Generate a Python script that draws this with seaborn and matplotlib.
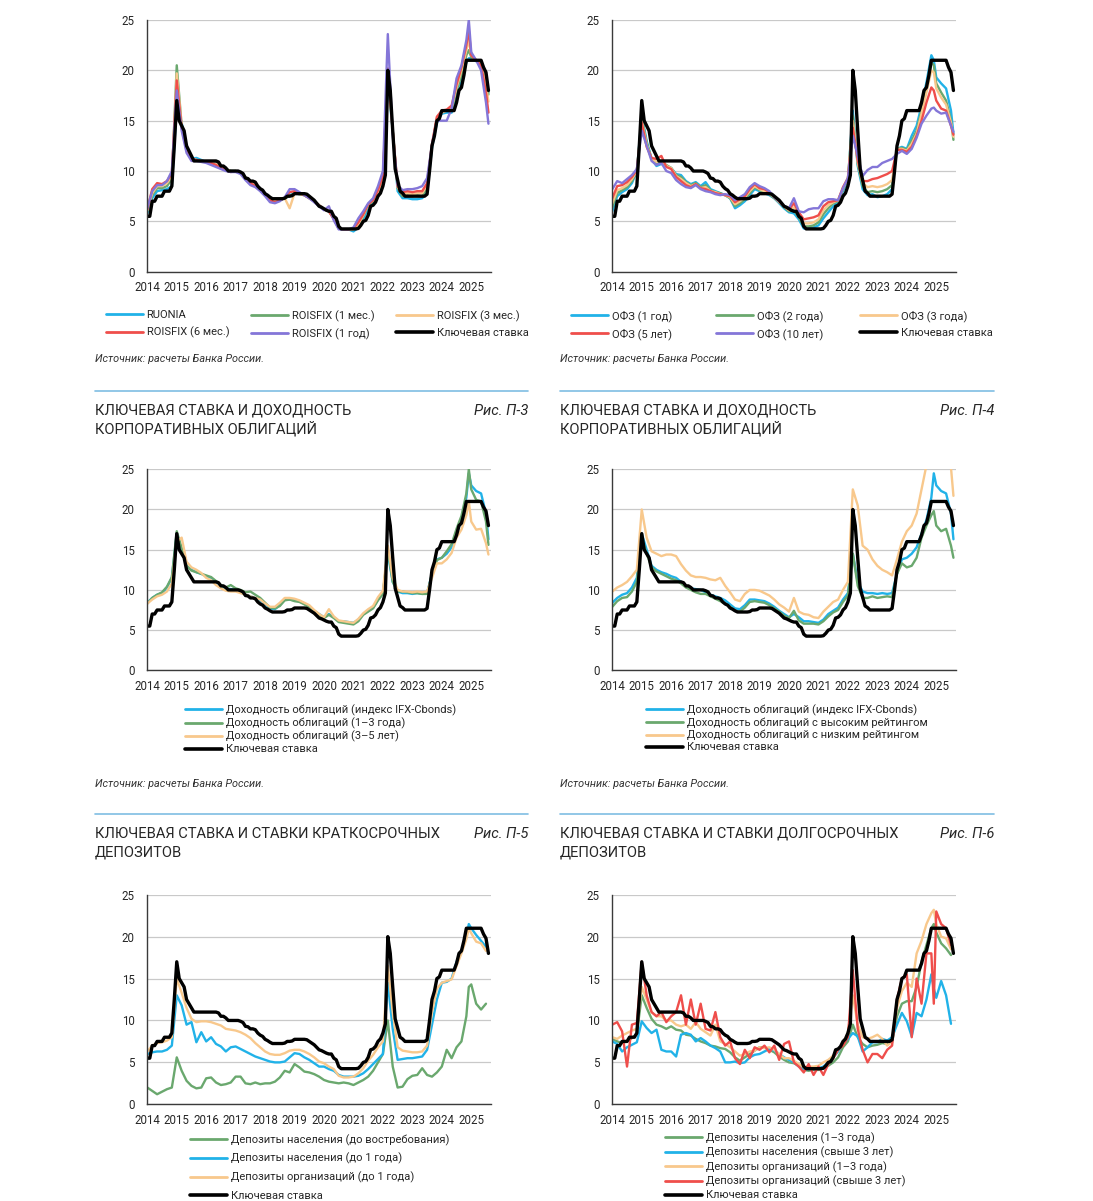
import numpy as np
import pandas as pd
import matplotlib
matplotlib.use("Agg")
import matplotlib.pyplot as plt
from matplotlib.lines import Line2D
import seaborn as sns

sns.set_style("white")
plt.rcParams["font.family"] = ["Roboto", "DejaVu Sans"]

W, H = 1093, 1201
nan = np.nan

# ---------------- time grids ----------------
# key rate: monthly, Jan 2014 .. Aug 2025
KEY_RATE = [
    5.5, 5.5, 7.0, 7.0, 7.5, 7.5, 7.5, 8.0, 8.0, 8.0, 8.5, 12.5,      # 2014
    17.0, 15.0, 14.5, 14.0, 12.5, 12.0, 11.5, 11.0, 11.0, 11.0, 11.0, 11.0,  # 2015
    11.0, 11.0, 11.0, 11.0, 11.0, 10.9, 10.5, 10.5, 10.3, 10.0, 10.0, 10.0,  # 2016
    10.0, 10.0, 9.9, 9.75, 9.3, 9.25, 9.0, 9.0, 8.9, 8.5, 8.25, 8.1,         # 2017
    7.75, 7.6, 7.4, 7.25, 7.25, 7.25, 7.25, 7.25, 7.3, 7.5, 7.5, 7.55,      # 2018
    7.75, 7.75, 7.75, 7.75, 7.75, 7.7, 7.5, 7.3, 7.1, 6.8, 6.5, 6.4,        # 2019
    6.25, 6.1, 6.0, 6.0, 5.5, 5.3, 4.5, 4.25, 4.25, 4.25, 4.25, 4.25,       # 2020
    4.25, 4.25, 4.3, 4.6, 5.0, 5.1, 5.6, 6.5, 6.6, 6.9, 7.5, 7.8,           # 2021
    8.5, 9.6, 20.0, 18.0, 14.0, 10.2, 9.1, 8.0, 7.8, 7.5, 7.5, 7.5,         # 2022
    7.5, 7.5, 7.5, 7.5, 7.5, 7.5, 7.7, 10.0, 12.5, 13.5, 15.0, 15.2,        # 2023
    16.0, 16.0, 16.0, 16.0, 16.0, 16.0, 16.8, 18.0, 18.3, 19.5, 21.0, 21.0,  # 2024
    21.0, 21.0, 21.0, 21.0, 21.0, 20.3, 19.8, 18.0,                          # 2025
]
KR_T = 2014 + np.arange(len(KEY_RATE)) / 12.0

# other series: odd months 2014-2023, 2024: 1,3,5,7,9,11,12 ; 2025: 1,3,5,7,8
GRID = [(y, m) for y in range(2014, 2024) for m in (1, 3, 5, 7, 9, 11)]
GRID += [(2024, m) for m in (1, 3, 5, 7, 9, 11, 12)]
GRID += [(2025, m) for m in (1, 3, 5, 7, 8)]
T = np.array([y + (m - 1) / 12.0 for y, m in GRID])

# ---------------- panel 1: money market ----------------
RUONIA = [5.8, 7.3, 8.0, 8.1, 8.2, 8.5,
          16.5, 14.8, 12.2, 11.2, 11.3, 11.1,
          10.9, 10.9, 10.8, 10.5, 10.2, 10.0,
          10.0, 9.9, 9.4, 9.0, 8.7, 8.2,
          7.7, 7.2, 7.1, 7.1, 7.3, 7.6,
          7.8, 7.7, 7.6, 7.3, 7.0, 6.6,
          6.2, 6.0, 5.3, 4.3, 4.2, 4.2,
          4.0, 4.4, 5.2, 6.3, 6.8, 7.5,
          8.8, 19.0, 14.0, 8.0, 7.3, 7.3,
          7.2, 7.2, 7.3, 7.9, 12.3, 14.8,
          15.7, 15.8, 15.8, 17.3, 18.9, 20.8, 21.2,
          21.2, 20.9, 20.9, 19.6, 17.8]
ROISFIX_1M = [6.0, 7.6, 8.3, 8.3, 8.5, 9.2,
              20.5, 14.5, 12.2, 11.2, 11.1, 11.0,
              10.9, 10.8, 10.7, 10.4, 10.2, 10.0,
              10.0, 9.8, 9.4, 9.0, 8.6, 8.2,
              7.7, 7.2, 7.0, 7.1, 7.3, 7.5,
              7.8, 7.7, 7.6, 7.3, 7.0, 6.6,
              6.2, 6.0, 5.3, 4.3, 4.2, 4.2,
              4.2, 4.6, 5.5, 6.6, 7.0, 7.8,
              9.2, 20.0, 14.0, 8.3, 7.5, 7.6,
              7.5, 7.6, 7.5, 8.3, 12.5, 15.2,
              15.9, 16.0, 16.1, 18.0, 19.5, 21.5, 22.0,
              21.3, 21.0, 20.8, 19.2, 17.6]
ROISFIX_3M = [6.1, 7.8, 8.5, 8.5, 8.8, 9.5,
              19.7, 14.5, 12.2, 11.2, 11.1, 11.0,
              10.9, 10.8, 10.7, 10.4, 10.2, 10.0,
              10.0, 9.8, 9.4, 9.0, 8.6, 8.2,
              7.7, 7.2, 7.0, 7.1, 7.3, 6.3,
              7.8, 7.7, 7.6, 7.3, 7.0, 6.6,
              6.2, 6.0, 5.3, 4.3, 4.2, 4.2,
              4.2, 4.7, 5.6, 6.7, 7.1, 7.9,
              9.3, 20.0, 14.0, 8.4, 7.7, 7.8,
              7.7, 7.8, 7.8, 8.6, 12.6, 15.3,
              15.8, 16.0, 16.3, 18.3, 20.0, 22.0, 23.0,
              21.5, 21.0, 20.6, 18.5, 16.9]
ROISFIX_6M = [6.2, 8.2, 8.8, 8.7, 9.0, 9.8,
              19.0, 14.3, 12.0, 11.2, 11.1, 11.0,
              10.9, 10.8, 10.6, 10.3, 10.1, 9.9,
              10.0, 9.8, 9.3, 8.8, 8.5, 8.1,
              7.6, 7.1, 6.9, 7.1, 7.3, 7.9,
              8.0, 7.8, 7.6, 7.3, 7.0, 6.6,
              6.2, 6.0, 5.2, 4.3, 4.2, 4.2,
              4.3, 4.9, 5.7, 6.7, 7.1, 8.1,
              9.5, 20.2, 14.0, 8.5, 7.9, 8.0,
              7.9, 8.0, 8.0, 8.8, 12.7, 15.4,
              16.0, 16.1, 16.5, 18.6, 20.3, 22.5, 24.0,
              21.5, 21.0, 20.5, 17.8, 15.8]
ROISFIX_1Y = [6.3, 8.0, 8.6, 8.6, 9.0, 10.0,
              18.0, 14.0, 11.8, 11.0, 11.0, 10.9,
              10.8, 10.6, 10.4, 10.2, 10.0, 9.9,
              9.9, 9.7, 9.1, 8.6, 8.4, 8.0,
              7.5, 6.9, 6.8, 7.0, 7.4, 8.2,
              8.2, 7.9, 7.6, 7.3, 6.9, 6.5,
              6.1, 6.5, 5.1, 4.2, 4.2, 4.2,
              4.4, 5.3, 6.0, 6.8, 7.3, 8.5,
              10.0, 23.6, 13.5, 8.6, 8.1, 8.2,
              8.2, 8.3, 8.5, 9.3, 12.6, 15.0,
              15.0, 15.0, 16.2, 19.2, 20.5, 23.0, 25.0,
              21.8, 21.0, 20.0, 16.8, 14.7]

# ---------------- panel 2: OFZ ----------------
OFZ_1Y = [6.0, 7.5, 7.9, 8.2, 8.8, 10.0,
          15.5, 13.0, 11.2, 10.5, 10.7, 10.5,
          10.3, 9.7, 9.6, 9.0, 8.7, 8.9,
          8.5, 8.9, 8.2, 8.0, 7.8, 7.6,
          7.3, 6.3, 6.6, 7.0, 7.6, 8.2,
          8.0, 7.8, 7.6, 7.3, 6.8, 6.3,
          5.9, 5.8, 5.2, 4.3, 4.3, 4.4,
          4.6, 5.3, 5.9, 6.5, 6.9, 8.0,
          9.0, 16.0, 10.5, 8.2, 7.6, 7.7,
          7.4, 7.5, 7.7, 8.2, 12.2, 12.4,
          12.2, 13.5, 14.5, 16.5, 18.8, 21.5, 21.0,
          19.3, 18.7, 18.2, 16.0, 13.7]
OFZ_2Y = [6.4, 7.8, 8.1, 8.4, 9.0, 10.0,
          15.2, 12.8, 11.2, 10.7, 10.9, 10.6,
          10.3, 9.6, 9.4, 8.9, 8.6, 8.8,
          8.4, 8.6, 8.1, 7.9, 7.8, 7.6,
          7.3, 6.5, 6.8, 7.2, 7.8, 8.4,
          8.1, 7.9, 7.7, 7.3, 6.9, 6.4,
          6.0, 6.1, 5.4, 4.5, 4.5, 4.6,
          4.9, 5.7, 6.3, 6.8, 7.0, 8.2,
          9.2, 15.5, 10.7, 8.5, 7.9, 8.0,
          7.9, 8.0, 8.2, 8.6, 12.2, 12.3,
          12.1, 13.0, 14.0, 16.0, 18.3, 20.8, 20.5,
          18.7, 17.8, 17.0, 15.0, 13.1]
OFZ_3Y = [6.8, 8.1, 8.3, 8.6, 9.2, 10.0,
          15.0, 12.6, 11.2, 10.9, 11.1, 10.5,
          10.3, 9.5, 9.2, 8.8, 8.5, 8.7,
          8.3, 8.4, 8.0, 7.9, 7.7, 7.6,
          7.4, 6.7, 7.0, 7.4, 8.0, 8.5,
          8.2, 8.0, 7.8, 7.4, 6.9, 6.5,
          6.1, 6.4, 5.6, 4.8, 4.8, 4.9,
          5.2, 6.1, 6.6, 6.9, 7.1, 8.3,
          9.3, 15.0, 10.9, 8.8, 8.4, 8.5,
          8.4, 8.5, 8.7, 9.1, 12.2, 12.2,
          12.0, 12.7, 13.7, 15.7, 17.8, 20.0, 19.8,
          18.2, 17.3, 16.6, 14.8, 13.4]
OFZ_5Y = [7.3, 8.5, 8.6, 8.9, 9.4, 10.1,
          14.8, 12.4, 11.3, 11.2, 11.5, 10.4,
          10.2, 9.4, 9.0, 8.6, 8.4, 8.7,
          8.3, 8.2, 8.0, 7.8, 7.7, 7.6,
          7.5, 6.9, 7.2, 7.5, 8.2, 8.7,
          8.3, 8.2, 7.9, 7.4, 7.0, 6.5,
          6.2, 6.8, 5.9, 5.2, 5.3, 5.4,
          5.6, 6.5, 6.9, 7.0, 7.1, 8.4,
          9.3, 14.3, 11.1, 9.0, 9.0, 9.2,
          9.3, 9.5, 9.7, 10.0, 12.1, 12.1,
          11.9, 12.4, 13.5, 15.0, 16.8, 18.3, 18.0,
          17.0, 16.2, 16.0, 14.5, 13.6]
OFZ_10Y = [8.2, 9.0, 8.8, 9.2, 9.6, 10.2,
           14.0, 12.5, 11.0, 10.6, 10.8, 10.0,
           9.8, 9.1, 8.7, 8.4, 8.3, 8.6,
           8.2, 8.0, 7.9, 7.7, 7.6, 7.7,
           7.6, 7.1, 7.4, 7.7, 8.4, 8.8,
           8.5, 8.3, 8.0, 7.4, 7.0, 6.5,
           6.3, 7.3, 6.0, 5.9, 6.2, 6.3,
           6.3, 7.0, 7.2, 7.2, 7.1, 8.3,
           9.3, 13.5, 11.5, 9.5, 10.1, 10.4,
           10.4, 10.8, 11.0, 11.2, 11.7, 12.0,
           11.7, 12.2, 13.3, 14.7, 15.5, 16.2, 16.3,
           16.0, 15.7, 15.8, 14.5, 13.9]

# ---------------- panel 3/4: corporate bonds ----------------
IFX_CBONDS = [8.4, 9.0, 9.4, 9.6, 10.3, 11.5,
              17.0, 15.0, 13.0, 12.5, 12.2, 12.0,
              11.7, 11.5, 11.0, 10.5, 10.2, 10.1,
              10.0, 9.7, 9.4, 9.2, 9.0, 8.7,
              8.2, 7.7, 7.6, 8.1, 8.8, 8.8,
              8.7, 8.6, 8.3, 7.9, 7.4, 7.0,
              6.6, 7.0, 6.6, 6.1, 6.1, 6.0,
              5.9, 6.3, 7.0, 7.4, 7.8, 8.8,
              9.6, 14.5, 11.0, 9.8, 9.6, 9.6,
              9.5, 9.6, 9.5, 9.6, 12.0, 13.8,
              14.0, 14.5, 15.3, 17.0, 18.7, 21.5, 24.5,
              23.0, 22.3, 22.0, 19.5, 16.3]
BONDS_1_3Y = [8.3, 9.0, 9.4, 9.7, 10.4, 11.6,
              17.3, 15.2, 13.0, 12.4, 12.2, 12.0,
              11.8, 11.6, 11.1, 10.6, 10.3, 10.6,
              10.2, 10.0, 9.7, 9.8, 9.4, 9.0,
              8.4, 7.8, 7.7, 8.0, 8.7, 8.8,
              8.6, 8.5, 8.2, 7.8, 7.3, 6.9,
              6.5, 6.9, 6.5, 6.0, 5.9, 5.8,
              5.7, 6.1, 6.9, 7.3, 7.7, 8.7,
              9.5, 15.0, 11.0, 9.8, 9.8, 9.7,
              9.6, 9.6, 9.5, 9.5, 12.0, 13.7,
              14.0, 14.8, 15.7, 17.6, 19.2, 22.0, 25.0,
              22.5, 21.2, 21.0, 18.5, 15.6]
BONDS_3_5Y = [8.3, 8.8, 9.2, 9.4, 9.8, 10.8,
              16.0, 16.5, 13.5, 12.8, 12.5, 12.1,
              11.5, 11.2, 10.6, 10.2, 9.9, 9.8,
              9.8, 9.6, 9.4, 9.2, 9.0, 8.8,
              8.3, 7.9, 7.9, 8.4, 9.0, 9.0,
              8.9, 8.7, 8.4, 8.1, 7.5, 7.0,
              6.6, 7.6, 6.7, 6.2, 6.1, 6.0,
              5.9, 6.4, 7.1, 7.6, 8.0, 9.1,
              9.9, 15.5, 11.5, 10.0, 9.8, 9.8,
              9.7, 9.8, 9.7, 9.8, 11.5, 13.3,
              13.3, 13.8, 14.6, 16.5, 17.5, 19.3, 21.0,
              18.5, 17.5, 17.6, 15.8, 14.4]
BONDS_HIGH = [7.9, 8.6, 9.0, 9.1, 9.8, 11.0,
              16.5, 14.5, 12.8, 12.3, 12.0, 11.7,
              11.4, 11.2, 10.8, 10.3, 10.0, 9.7,
              9.5, 9.5, 9.2, 8.9, 8.6, 8.3,
              7.9, 7.4, 7.3, 7.8, 8.5, 8.6,
              8.5, 8.4, 8.1, 7.7, 7.3, 6.8,
              6.5, 7.4, 6.2, 5.8, 5.8, 5.8,
              5.7, 6.1, 6.7, 7.2, 7.5, 8.5,
              9.3, 14.5, 10.5, 9.0, 9.0, 9.2,
              9.0, 9.1, 9.2, 9.1, 12.0, 13.3,
              12.8, 13.0, 14.0, 16.5, 18.0, 19.3, 19.8,
              18.0, 17.3, 17.6, 15.5, 14.0]
BONDS_LOW = [9.8, 10.3, 10.6, 11.0, 11.7, 12.5,
             20.0, 16.5, 14.8, 14.5, 14.2, 14.4,
             14.4, 14.2, 13.2, 12.4, 11.8, 11.6,
             11.6, 11.5, 11.3, 11.2, 11.5, 10.5,
             9.7, 8.8, 8.6, 9.5, 10.0, 10.0,
             9.9, 9.6, 9.3, 8.8, 8.2, 7.8,
             7.3, 9.0, 7.3, 7.0, 6.9, 6.6,
             6.5, 7.3, 7.9, 8.5, 8.8, 10.0,
             11.0, 22.5, 20.5, 15.5, 15.0, 13.8,
             13.0, 12.5, 12.2, 11.8, 13.8, 16.0,
             17.3, 18.0, 19.5, 22.5, 25.5, 27.0, 28.0,
             28.0, 27.0, 26.0, 25.2, 21.7]

# ---------------- panel 5: short-term deposits ----------------
DEP_HH_DEMAND = [2.0, 1.6, 1.2, 1.5, 1.8, 2.0,
                 5.6, 4.0, 2.8, 2.2, 1.9, 2.0,
                 3.1, 3.2, 2.6, 2.3, 2.4, 2.6,
                 3.3, 3.3, 2.5, 2.4, 2.6, 2.4,
                 2.5, 2.5, 2.7, 3.2, 4.0, 3.8,
                 4.8, 4.4, 3.9, 3.8, 3.6, 3.3,
                 2.9, 2.7, 2.6, 2.5, 2.6, 2.5,
                 2.3, 2.6, 2.9, 3.3, 4.0, 5.0,
                 6.0, 10.0, 4.5, 2.0, 2.1, 3.0,
                 3.4, 3.5, 4.3, 3.5, 3.3, 3.8,
                 4.5, 6.5, 5.5, 6.8, 7.5, 10.5, 14.0,
                 14.3, 12.0, 11.3, 12.0, nan]
DEP_HH_1Y = [6.0, 6.2, 6.3, 6.3, 6.5, 7.0,
             13.0, 11.8, 9.5, 9.8, 7.4, 8.6,
             7.5, 8.0, 7.2, 6.9, 6.3, 6.8,
             6.9, 6.6, 6.3, 6.0, 5.7, 5.5,
             5.3, 5.1, 5.0, 5.0, 5.1, 5.6,
             6.1, 6.0, 5.6, 5.3, 4.9, 4.5,
             4.5, 4.2, 4.0, 3.5, 3.3, 3.3,
             3.3, 3.4, 3.7, 4.2, 4.8, 5.4,
             6.0, 14.5, 9.0, 5.3, 5.4, 5.5,
             5.5, 5.6, 5.7, 6.5, 9.5, 12.5,
             14.5, 14.6, 15.0, 17.0, 18.3, 20.0, 21.5,
             21.0, 20.2, 19.5, 18.8, nan]
DEP_ORG_1Y = [6.3, 7.0, 7.3, 7.4, 7.6, 8.0,
              15.0, 13.3, 11.5, 10.2, 9.8, 9.9,
              9.9, 9.8, 9.6, 9.4, 9.0, 8.9,
              8.8, 8.6, 8.3, 7.9, 7.3, 6.8,
              6.3, 6.0, 5.9, 5.9, 6.1, 6.4,
              6.5, 6.5, 6.3, 6.0, 5.6, 5.1,
              4.9, 4.5, 4.2, 3.4, 3.2, 3.2,
              3.3, 3.7, 4.3, 5.2, 5.9, 6.8,
              7.5, 16.5, 11.0, 6.8, 6.4, 6.3,
              6.2, 6.2, 6.3, 7.0, 11.0, 13.8,
              14.5, 14.7, 14.9, 16.5, 18.0, 19.7, 21.0,
              20.4, 19.4, 19.2, 18.3, nan]

# ---------------- panel 6: long-term deposits ----------------
DEP_HH_1_3Y = [7.8, 7.5, 7.3, 7.5, 7.9, 8.4,
               13.0, 11.5, 10.2, 9.5, 9.3, 9.0,
               9.3, 8.9, 8.8, 8.3, 8.2, 7.8,
               7.5, 7.3, 7.0, 6.9, 6.7, 6.6,
               6.2, 5.6, 5.2, 5.6, 6.0, 6.4,
               6.8, 6.8, 6.5, 6.2, 5.7, 5.3,
               5.0, 4.9, 4.6, 4.1, 4.0, 4.1,
               4.1, 4.3, 4.6, 5.0, 5.6, 6.8,
               7.5, 9.5, 8.0, 7.2, 6.8, 7.0,
               7.1, 7.3, 7.2, 7.4, 10.5, 12.0,
               12.3, 12.3, 14.0, 17.0, 19.0, 21.0, 21.5,
               20.5, 19.2, 18.6, 17.8, nan]
DEP_HH_3Y = [7.5, 7.2, 6.3, 6.8, 7.1, 7.4,
             9.9, 9.1, 8.5, 8.9, 6.5, 6.3,
             6.3, 5.7, 8.3, 8.5, 8.3, 7.5,
             7.9, 7.5, 7.0, 6.7, 6.3, 5.0,
             5.0, 5.1, 4.9, 5.0, 5.6, 5.9,
             6.0, 6.3, 6.6, 6.4, 6.0, 5.6,
             5.3, 5.0, 4.5, 4.2, 4.2, 4.2,
             4.3, 4.5, 5.0, 5.6, 6.3, 7.2,
             7.8, 8.5, 8.1, 6.3, 6.8, 7.4,
             7.4, 7.8, 7.6, 8.0, 9.5, 10.9,
             9.9, 8.1, 10.9, 10.5, 12.5, 15.5, 13.8,
             12.7, 14.7, 13.0, 9.6, nan]
DEP_ORG_1_3Y = [8.0, 7.8, 8.2, 8.5, 8.8, 9.0,
                14.0, 12.5, 11.0, 10.5, 10.5, 10.0,
                10.0, 9.5, 9.3, 9.5, 9.0, 9.8,
                9.0, 8.6, 8.2, 9.5, 7.5, 7.2,
                6.8, 6.3, 5.8, 6.0, 6.3, 6.4,
                6.8, 6.7, 6.8, 6.5, 6.0, 5.5,
                5.5, 5.2, 4.8, 4.4, 4.5, 4.5,
                4.6, 5.0, 5.3, 5.8, 6.5, 7.3,
                8.5, 13.0, 9.5, 8.0, 7.8, 8.0,
                8.3, 7.8, 7.0, 7.5, 11.5, 13.5,
                14.5, 14.0, 18.0, 19.5, 21.5, 22.8, 23.2,
                21.5, 20.0, 19.8, 18.5, nan]
DEP_ORG_3Y = [9.5, 9.8, 8.7, 4.5, 9.5, 9.7,
              17.0, 13.0, 11.0, 10.5, 11.0, 9.8,
              10.5, 11.0, 13.0, 9.5, 12.5, 9.5,
              12.0, 9.0, 8.8, 11.0, 8.0, 7.0,
              7.5, 5.5, 4.8, 6.5, 5.5, 6.8,
              6.5, 7.0, 6.2, 7.0, 5.3, 7.2,
              7.5, 5.0, 4.5, 3.8, 4.8, 3.5,
              4.5, 3.5, 4.8, 5.5, 6.5, 7.0,
              8.0, 16.0, 9.0, 6.5, 5.0, 6.0,
              6.0, 5.5, 6.5, 7.0, 12.5, 15.0,
              15.5, 8.0, 15.0, 12.0, 18.0, 18.0, 12.0,
              23.0, 21.5, 21.0, 19.0, nan]

YEARS = list(range(2014, 2026))
YTICKS = [0, 5, 10, 15, 20, 25]
KEY_LABEL = "Ключевая ставка"

C_CYAN = "#21b2e8"
C_GREEN = "#6aa86e"
C_ORANGE = "#f8c88c"
C_RED = "#ef4e4b"
C_PURPLE = "#8476d8"
TXT = "#262626"

fig = plt.figure(figsize=(W / 100, H / 100), dpi=100)


def fx(px):
    return px / W


def fy(py):
    return 1 - py / H


def make_ax(left, right, top, bottom):
    return fig.add_axes([fx(left), fy(bottom), (right - left) / W, (bottom - top) / H])


def draw_panel(ax, series, labels, colors):
    frames = [pd.DataFrame({"t": T, "v": s, "series": lab}) for s, lab in zip(series, labels)]
    df = pd.concat(frames, ignore_index=True)
    sns.lineplot(data=df, x="t", y="v", hue="series", hue_order=labels, palette=colors,
                 linewidth=1.7, estimator=None, legend=False, ax=ax)
    sns.lineplot(x=KR_T, y=KEY_RATE, color="black", linewidth=2.4, estimator=None,
                 legend=False, ax=ax)
    ax.set_xlim(2014, 2025.66)
    ax.set_ylim(0, 25)
    ax.set_xticks(YEARS)
    ax.set_xticklabels([str(y) for y in YEARS])
    ax.set_yticks(YTICKS)
    ax.grid(axis="y", color="#c9c9c9", linewidth=0.9)
    ax.grid(axis="x", visible=False)
    ax.set_axisbelow(True)
    for s in ("top", "right"):
        ax.spines[s].set_visible(False)
    for s in ("left", "bottom"):
        ax.spines[s].set_color("#3a3a3a")
        ax.spines[s].set_linewidth(1.0)
    ax.tick_params(axis="both", direction="out", length=3, width=0.8, color="#3a3a3a",
                   labelsize=8.3, labelcolor=TXT)
    ax.tick_params(axis="x", pad=4)
    ax.tick_params(axis="y", pad=6)
    ax.set_xlabel("")
    ax.set_ylabel("")
    handles = [Line2D([], [], color=c, linewidth=2.0) for c in colors]
    handles.append(Line2D([], [], color="black", linewidth=2.6))
    return handles, list(labels) + [KEY_LABEL]


def add_legend(handles, labels, x, y_first, spacing):
    fig.legend(handles, labels, loc="upper left",
               bbox_to_anchor=(fx(x), fy(y_first - 7)), bbox_transform=fig.transFigure,
               frameon=False, borderpad=0, borderaxespad=0, handlelength=3.3,
               handletextpad=0.35, labelspacing=spacing, fontsize=8, labelcolor=TXT)


def source(x, y):
    fig.text(fx(x), fy(y), "Источник: расчеты Банка России.", ha="left", va="center",
             fontsize=7.8, style="italic", color="#333333")


def header(x0, x1, y_line, lines, fig_label):
    fig.add_artist(Line2D([fx(x0), fx(x1)], [fy(y_line), fy(y_line)],
                          transform=fig.transFigure, color="#7fbde3", linewidth=1.2))
    fig.text(fx(x0), fy(y_line + 20), lines[0], ha="left", va="center", fontsize=10.6, color=TXT)
    fig.text(fx(x0), fy(y_line + 38.5), lines[1], ha="left", va="center", fontsize=10.6, color=TXT)
    fig.text(fx(x1), fy(y_line + 20), fig_label, ha="right", va="center", fontsize=10.6,
             style="italic", color=TXT)


# ---- panel 1
ax1 = make_ax(147.3, 490.7, 20, 271.7)
h, l = draw_panel(ax1, [RUONIA, ROISFIX_1M, ROISFIX_3M, ROISFIX_6M, ROISFIX_1Y],
                  ["RUONIA", "ROISFIX (1 мес.)", "ROISFIX (3 мес.)", "ROISFIX (6 мес.)", "ROISFIX (1 год)"],
                  [C_CYAN, C_GREEN, C_ORANGE, C_RED, C_PURPLE])
add_legend([h[0], h[3]], [l[0], l[3]], 106, 317, 0.6)
add_legend([h[1], h[4]], [l[1], l[4]], 251, 317, 0.6)
add_legend([h[2], h[5]], [l[2], l[5]], 396, 317, 0.6)
source(95, 359)

# ---- panel 2
ax2 = make_ax(612.3, 955.7, 20, 271.7)
h, l = draw_panel(ax2, [OFZ_1Y, OFZ_2Y, OFZ_3Y, OFZ_5Y, OFZ_10Y],
                  ["ОФЗ (1 год)", "ОФЗ (2 года)", "ОФЗ (3 года)", "ОФЗ (5 лет)", "ОФЗ (10 лет)"],
                  [C_CYAN, C_GREEN, C_ORANGE, C_RED, C_PURPLE])
add_legend([h[0], h[3]], [l[0], l[3]], 571, 317, 0.6)
add_legend([h[1], h[4]], [l[1], l[4]], 716, 317, 0.6)
add_legend([h[2], h[5]], [l[2], l[5]], 860, 317, 0.6)
source(560, 359)

# ---- headers middle row
header(95, 528, 390.7, ["КЛЮЧЕВАЯ СТАВКА И ДОХОДНОСТЬ", "КОРПОРАТИВНЫХ ОБЛИГАЦИЙ"], "Рис. П-3")
header(560, 994, 390.7, ["КЛЮЧЕВАЯ СТАВКА И ДОХОДНОСТЬ", "КОРПОРАТИВНЫХ ОБЛИГАЦИЙ"], "Рис. П-4")

# ---- panel 3
ax3 = make_ax(147.3, 490.7, 469.3, 670.3)
h, l = draw_panel(ax3, [IFX_CBONDS, BONDS_1_3Y, BONDS_3_5Y],
                  ["Доходность облигаций (индекс IFX-Cbonds)", "Доходность облигаций (1–3 года)",
                   "Доходность облигаций (3–5 лет)"],
                  [C_CYAN, C_GREEN, C_ORANGE])
add_legend(h, l, 185, 711, 0.18)
source(95, 784)

# ---- panel 4
ax4 = make_ax(612.3, 955.7, 469.3, 670.3)
h, l = draw_panel(ax4, [IFX_CBONDS, BONDS_HIGH, BONDS_LOW],
                  ["Доходность облигаций (индекс IFX-Cbonds)", "Доходность облигаций с высоким рейтингом",
                   "Доходность облигаций с низким рейтингом"],
                  [C_CYAN, C_GREEN, C_ORANGE])
add_legend(h, l, 646, 711, 0.18)
source(560, 784)

# ---- headers bottom row
header(95, 528, 814, ["КЛЮЧЕВАЯ СТАВКА И СТАВКИ КРАТКОСРОЧНЫХ", "ДЕПОЗИТОВ"], "Рис. П-5")
header(560, 994, 814, ["КЛЮЧЕВАЯ СТАВКА И СТАВКИ ДОЛГОСРОЧНЫХ", "ДЕПОЗИТОВ"], "Рис. П-6")

# ---- panel 5
ax5 = make_ax(147.3, 490.7, 894.7, 1104.3)
h, l = draw_panel(ax5, [DEP_HH_DEMAND, DEP_HH_1Y, DEP_ORG_1Y],
                  ["Депозиты населения (до востребования)", "Депозиты населения (до 1 года)",
                   "Депозиты организаций (до 1 года)"],
                  [C_GREEN, C_CYAN, C_ORANGE])
add_legend(h, l, 190, 1141, 0.67)

# ---- panel 6
ax6 = make_ax(612.3, 955.7, 894.7, 1104.3)
h, l = draw_panel(ax6, [DEP_HH_1_3Y, DEP_HH_3Y, DEP_ORG_1_3Y, DEP_ORG_3Y],
                  ["Депозиты населения (1–3 года)", "Депозиты населения (свыше 3 лет)",
                   "Депозиты организаций (1–3 года)", "Депозиты организаций (свыше 3 лет)"],
                  [C_GREEN, C_CYAN, C_ORANGE, C_RED])
add_legend(h, l, 665, 1139, 0.28)

fig.savefig("out.png", dpi=100, facecolor="white")
